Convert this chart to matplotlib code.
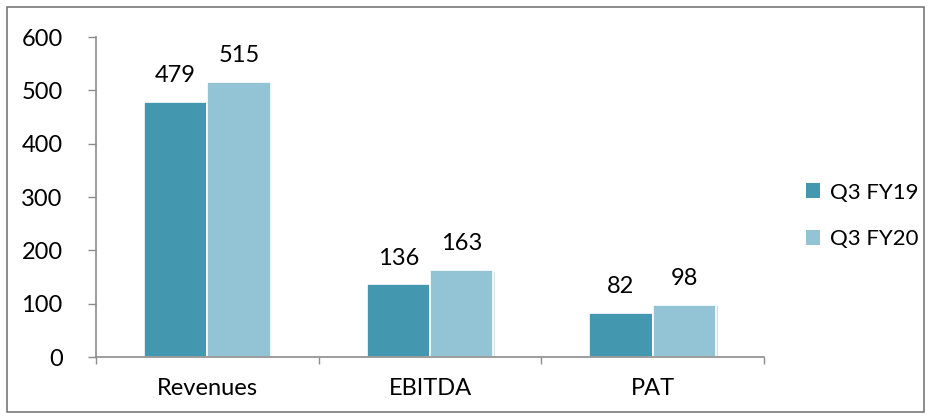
import matplotlib
matplotlib.use("Agg")
import matplotlib.pyplot as plt
import matplotlib.patheffects as pe
from matplotlib.patches import Rectangle
import numpy as np

plt.rcParams['font.family'] = ['Lato', 'DejaVu Sans']

categories = ['Revenues', 'EBITDA', 'PAT']
q3_fy19 = [479, 136, 82]
q3_fy20 = [515, 163, 98]
series_names = ['Q3 FY19', 'Q3 FY20']
y_ticks = [0, 100, 200, 300, 400, 500, 600]

dark = '#4397AE'
light = '#93C4D6'
axis_grey = '#8c8c8c'
fs = 17

fig = plt.figure(figsize=(9.31, 4.19), dpi=100)
W, H = 931, 419
ax = fig.add_axes([96 / W, (H - 357) / H, (764 - 96) / W, (357 - 37) / H])

# border around whole chart
fig.patches.append(Rectangle((7 / W, 7 / H), (924 - 7) / W, (412 - 7) / H,
                             transform=fig.transFigure, fill=False,
                             edgecolor='#6e6e6e', linewidth=1.1))

x = np.arange(len(categories))
width = 0.285
shadow = [pe.SimplePatchShadow(offset=(1.2, -1.2), shadow_rgbFace='#999999', alpha=0.35), pe.Normal()]

bars1 = ax.bar(x - width / 2, q3_fy19, width, color=dark, edgecolor='white',
               linewidth=1.2, label=series_names[0], path_effects=shadow)
bars2 = ax.bar(x + width / 2, q3_fy20, width, color=light, edgecolor='white',
               linewidth=1.2, label=series_names[1], path_effects=shadow)

for bars in (bars1, bars2):
    for b in bars:
        ax.annotate(f"{int(b.get_height())}", (b.get_x() + b.get_width() / 2, b.get_height()),
                    xytext=(0, 19), textcoords='offset points',
                    ha='center', va='center', fontsize=fs, color='black')

ax.set_xlim(-0.5, 2.5)
ax.set_ylim(0, 600)
ax.set_yticks(y_ticks)
ax.set_xticks(x)
ax.set_xticklabels(categories)
ax.set_xticks([-0.5, 0.5, 1.5, 2.5], minor=True)

ax.tick_params(axis='y', direction='out', length=6, width=1, color=axis_grey,
               labelsize=fs, pad=18)
ax.tick_params(axis='x', which='major', length=0, labelsize=fs, pad=15)
ax.tick_params(axis='x', which='minor', direction='out', length=5, width=1, color=axis_grey)

for s in ('top', 'right'):
    ax.spines[s].set_visible(False)
for s in ('left', 'bottom'):
    ax.spines[s].set_color(axis_grey)
    ax.spines[s].set_linewidth(1.2)

leg_h1 = Rectangle((0, 0), 1, 1, facecolor=dark, edgecolor='none')
leg_h2 = Rectangle((0, 0), 1, 1, facecolor=light, edgecolor='none')
fig.legend(handles=[leg_h1, leg_h2], labels=series_names, loc='center left',
           bbox_to_anchor=(806 / W, (H - 216) / H), frameon=False, fontsize=16,
           handlelength=0.65, handleheight=0.65, handletextpad=0.45,
           labelspacing=1.2, borderpad=0, borderaxespad=0)

fig.savefig('out.png', dpi=100)
